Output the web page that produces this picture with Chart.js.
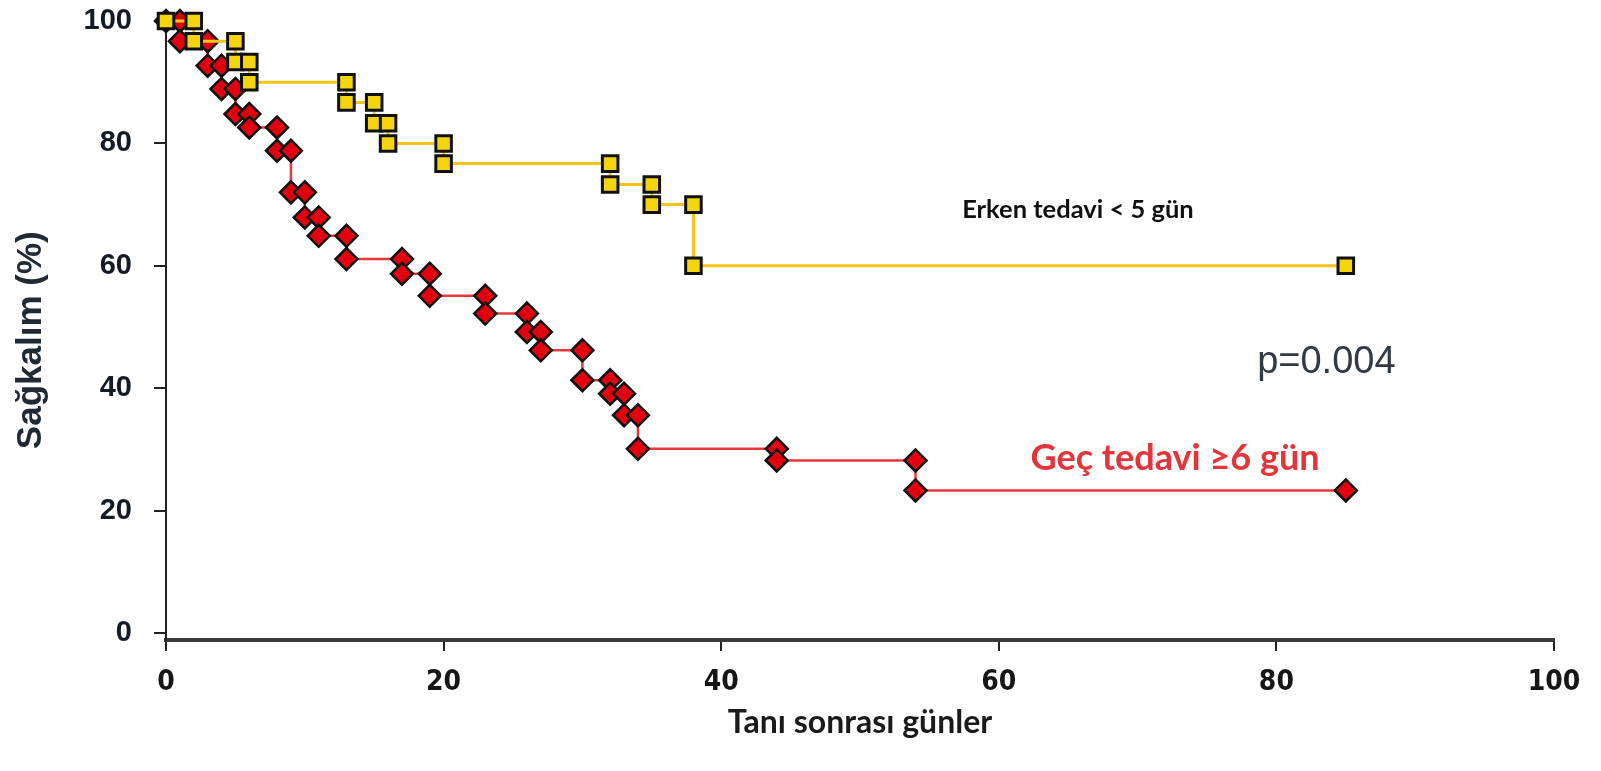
<!DOCTYPE html>
<html>
<head>
<meta charset="utf-8">
<title>Sağkalım</title>
<script src="https://cdn.jsdelivr.net/npm/chart.js@4.4.1/dist/chart.umd.min.js"></script>
<style>
    html, body { margin: 0; padding: 0; background: #fff; }
    #wrap { width: 1601px; height: 771px; }
</style>
</head>
<body>
<div id="wrap"><canvas id="kmChart" width="1601" height="771"></canvas></div>
<script>
// Kaplan-Meier steps (day, survival %)
const earlyDays = [0, 2, 5, 6, 13, 15, 16, 20, 32, 35, 38, 85];
const earlySurvival = [100, 96.7, 93.3, 90, 86.7, 83.3, 80, 76.7, 73.3, 70, 60, 60];

const lateDays = [0, 1, 3, 4, 5, 6, 8, 9, 10, 11, 13, 17, 19, 23, 26, 27, 30, 32, 33, 34, 44, 54, 85];
const lateSurvival = [100, 96.7, 92.7, 88.9, 84.8, 82.6, 78.8, 72, 67.9, 64.9, 61.1, 58.7, 55.1, 52.2, 49.2, 46.2, 41.3, 39.1, 35.6, 30.1, 28.2, 23.3, 23.3];

const xTicks = [0, 20, 40, 60, 80, 100];
const yTicks = [0, 20, 40, 60, 80, 100];


// Turn steps into corner points: one before and one after each drop
function kmPoints(days, surv) {
    const pts = [{ x: days[0], y: surv[0] }];
    for (let i = 1; i < days.length; i++) {
        if (surv[i] !== surv[i - 1]) {
            pts.push({ x: days[i], y: surv[i - 1] });
        }
        pts.push({ x: days[i], y: surv[i] });
    }
    return pts;
}


// Free text on the plot, placed in data units
const notes = [
    { text: 'Erken tedavi < 5 gün', x: 65.7, y: 69.1, font: 'bold 25.5px Lato, sans-serif', color: '#111111' },
    { text: 'p=0.004', x: 83.6, y: 44.2, font: '38px "Liberation Sans", Arial, sans-serif', color: '#333a44' },
    { text: 'Geç tedavi ≥6 gün', x: 72.7, y: 28.6, font: 'bold 36px Lato, sans-serif', color: '#e5343a' }
];

const notesPlugin = {
    id: 'notes',
    afterDatasetsDraw(chart) {
        const ctx = chart.ctx;
        const xs = chart.scales.x;
        const ys = chart.scales.y;
        ctx.save();
        ctx.textAlign = 'center';
        ctx.textBaseline = 'middle';
        for (const n of notes) {
            ctx.font = n.font;
            ctx.fillStyle = n.color;
            ctx.fillText(n.text, xs.getPixelForValue(n.x), ys.getPixelForValue(n.y));
        }
        ctx.restore();
    }
};


const chart = new Chart(
    document.getElementById('kmChart').getContext('2d'),
    {
        type: 'line',
        data: {
            datasets: [
                {
                    label: 'Erken tedavi < 5 gün',
                    data: kmPoints(earlyDays, earlySurvival),
                    borderColor: '#f5c518',
                    borderWidth: 3,
                    pointStyle: 'rect',
                    pointRadius: 11,
                    pointBackgroundColor: '#f4d40c',
                    pointBorderColor: '#111111',
                    pointBorderWidth: 3,
                    tension: 0,
                    clip: false,
                    order: 0
                },
                {
                    label: 'Geç tedavi ≥6 gün',
                    data: kmPoints(lateDays, lateSurvival),
                    borderColor: '#e8383a',
                    borderWidth: 2.5,
                    pointStyle: 'rectRot',
                    pointRadius: 11,
                    pointBackgroundColor: '#e00010',
                    pointBorderColor: '#111111',
                    pointBorderWidth: 2.5,
                    tension: 0,
                    clip: false,
                    order: 1
                }
            ]
        },
        options: {
            responsive: false,
            animation: false,
            layout: { padding: { left: 0, right: 47, top: 21, bottom: 0 } },
            plugins: {
                legend: { display: false },
                tooltip: { enabled: false }
            },
            scales: {
                x: {
                    type: 'linear',
                    min: 0,
                    max: 100,
                    afterBuildTicks: s => { s.ticks = xTicks.map(v => ({ value: v })); },
                    afterFit: s => { s.height = 131; },
                    border: { display: true, color: '#3a3a3a', width: 4 },
                    grid: { drawOnChartArea: false, drawTicks: true, tickLength: 11, color: '#222', lineWidth: 2 },
                    ticks: {
                        padding: 15,
                        color: '#161616',
                        font: { family: '"Liberation Sans Narrow", "DejaVu Sans Condensed", sans-serif', weight: 'bold', size: 28 }
                    },
                    title: {
                        display: true,
                        text: 'Tanı sonrası günler',
                        color: '#1a1a1a',
                        font: { family: 'Lato, sans-serif', weight: 'bold', size: 32 },
                        padding: { top: 0, bottom: 29 }
                    }
                },
                y: {
                    // the x axis sits a little below the zero line in the original
                    min: -1.14,
                    max: 100,
                    afterBuildTicks: s => { s.ticks = yTicks.map(v => ({ value: v })); },
                    afterFit: s => {
                        s.width = 166;
                        s.paddingTop = 0;
                        s.paddingBottom = 0;
                    },
                    border: { display: true, color: '#222', width: 2 },
                    grid: { drawOnChartArea: false, drawTicks: true, tickLength: 12, color: '#222', lineWidth: 2 },
                    ticks: {
                        padding: 22,
                        color: '#141a26',
                        font: { family: '"Liberation Sans", Arial, sans-serif', weight: 'bold', size: 29 }
                    },
                    title: {
                        display: true,
                        text: 'Sağkalım (%)  ',
                        color: '#1f2a36',
                        font: { family: '"Liberation Sans", Arial, sans-serif', weight: 'bold', size: 35 },
                        padding: { top: 10, bottom: 0 }
                    }
                }
            }
        },
        plugins: [notesPlugin]
    }
);
</script>
</body>
</html>
